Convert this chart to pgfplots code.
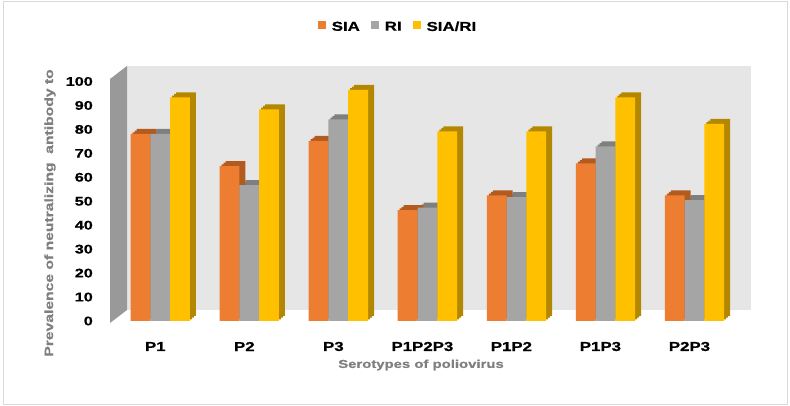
\documentclass[border=0pt]{standalone}
\usepackage{fontspec}
\setmainfont{Liberation Sans}[FakeStretch=1.3, BoldFeatures={FakeStretch=1.3, FakeBold=0.8}]
\usepackage{pgfplots}
\pgfplotsset{compat=1.18}
\usepackage{pgfplotstable}

\definecolor{siaC}{HTML}{ED7D31}
\definecolor{siaD}{HTML}{B35A1F}
\definecolor{riC}{HTML}{A5A5A5}
\definecolor{riD}{HTML}{7F7F7F}
\definecolor{sriC}{HTML}{FFC000}
\definecolor{sriD}{HTML}{B38800}
\definecolor{wallC}{HTML}{E6E6E6}
\definecolor{sideC}{HTML}{999999}
\definecolor{titleC}{HTML}{7F7F7F}
\definecolor{frameC}{HTML}{D9D9D9}

% prevalence (%) by serotype: SIA, RI and SIA/RI groups
\pgfplotstableread{
idx sia  ri   sri
0   78.1 78.1 93.4
1   64.7 56.7 88.4
2   75.2 84.2 96.5
3   46.3 47.3 79.2
4   52.5 51.7 79.2
5   65.8 72.9 93.4
6   52.5 50.5 82.3
}\serodata

\pgfplotsset{
  sqlegend/.style={legend image code/.code={\fill[##1] (0bp,-2.5bp) rectangle (8bp,5.5bp);}},
  backbar/.style={ybar, bar width=0.222, draw=none, forget plot},
  frontbar/.style={ybar, bar width=0.222, draw=none, sqlegend},
  depthA/.style={xshift=2bp, yshift=1.67bp},
  depthB/.style={xshift=4bp, yshift=3.33bp},
  depthC/.style={xshift=6bp, yshift=5bp},
}

\begin{document}
\begin{tikzpicture}
\useasboundingbox (0bp,0bp) rectangle (790bp,406bp);
\draw[frameC, line width=1bp] (3.5bp,1.5bp) rectangle (787.5bp,404.5bp);
% back wall and left side wall of the 3-D box
\fill[wallC] (127bp,96bp) rectangle (751bp,340bp);
\fill[sideC] (110bp,83bp) -- (127bp,96bp) -- (127bp,340bp) -- (110bp,327bp) -- cycle;
\begin{axis}[
  at={(110bp,85bp)}, anchor=south west,
  scale only axis, width=624bp, height=239.5bp,
  xmin=-0.565, xmax=6.444, ymin=0, ymax=100,
  clip=false,
  axis line style={draw=none},
  major tick length=0pt,
  tick style={draw=none},
  /pgf/number format/assume math mode=true,
  ytick={0,10,...,100},
  yticklabel style={font=\bfseries\fontsize{12.5}{13}\selectfont, anchor=east, inner sep=0pt, xshift=-17bp},
  xtick={0,...,6},
  xticklabels={P1,P2,P3,P1P2P3,P1P2,P1P3,P2P3},
  xticklabel style={font=\bfseries\fontsize{13}{13}\selectfont, anchor=center, inner sep=0pt, yshift=-25.5bp, xshift=-5bp},
  xlabel={Serotypes of poliovirus},
  xlabel style={at={(axis description cs:0.4984,-0.1835)}, anchor=center, font=\bfseries\fontsize{11.5}{12}\selectfont, text=titleC},
  ylabel={Prevalence of neutralizing\ \ antibody to},
  ylabel style={at={(axis description cs:-0.0962,0.451)}, anchor=center, font=\bfseries\fontsize{12.1}{13}\selectfont, text=titleC},
  legend columns=3,
  legend style={at={(axis description cs:0.4615,1.2276)}, anchor=center, draw=none, fill=none,
    font=\bfseries\fontsize{13}{13}\selectfont,
    /tikz/every odd column/.append style={column sep=4bp},
    /tikz/every even column/.append style={column sep=9bp}},
]
% depth faces (tops and sides) of the columns, stepped to give a slanted edge
\addplot[backbar, depthA, bar shift=-0.222, fill=siaD] table[x=idx, y=sia] {\serodata};
\addplot[backbar, depthA, bar shift=0, fill=riD] table[x=idx, y=ri] {\serodata};
\addplot[backbar, depthA, bar shift=0.222, fill=sriD] table[x=idx, y=sri] {\serodata};
\addplot[backbar, depthB, bar shift=-0.222, fill=siaD] table[x=idx, y=sia] {\serodata};
\addplot[backbar, depthB, bar shift=0, fill=riD] table[x=idx, y=ri] {\serodata};
\addplot[backbar, depthB, bar shift=0.222, fill=sriD] table[x=idx, y=sri] {\serodata};
\addplot[backbar, depthC, bar shift=-0.222, fill=siaD] table[x=idx, y=sia] {\serodata};
\addplot[backbar, depthC, bar shift=0, fill=riD] table[x=idx, y=ri] {\serodata};
\addplot[backbar, depthC, bar shift=0.222, fill=sriD] table[x=idx, y=sri] {\serodata};
% front faces
\addplot[frontbar, bar shift=-0.222, fill=siaC] table[x=idx, y=sia] {\serodata};
\addplot[frontbar, bar shift=0, fill=riC] table[x=idx, y=ri] {\serodata};
\addplot[frontbar, bar shift=0.222, fill=sriC] table[x=idx, y=sri] {\serodata};
\legend{SIA, RI, SIA/RI}
\end{axis}
\end{tikzpicture}
\end{document}
